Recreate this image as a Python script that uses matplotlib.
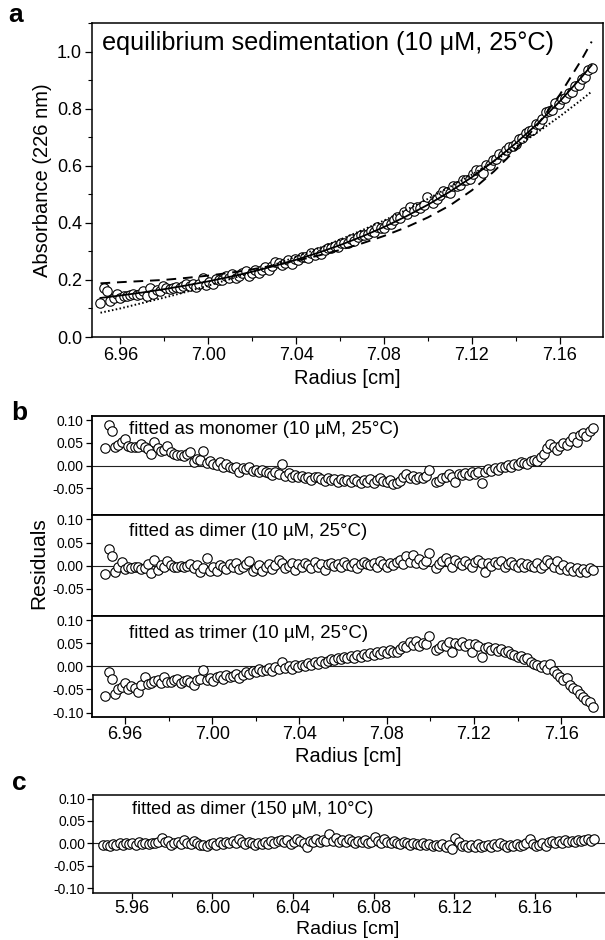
import matplotlib
matplotlib.use('Agg')
import matplotlib.pyplot as plt
from matplotlib.ticker import MultipleLocator, FixedLocator, FixedFormatter

plt.rcParams['font.family'] = ['Liberation Sans', 'DejaVu Sans']
plt.rcParams['axes.unicode_minus'] = False

# ---------------- data ----------------
radius = [
    6.9510, 6.9525, 6.9540, 6.9555, 6.9570, 6.9585, 6.9600, 6.9615, 6.9630, 6.9645,
    6.9660, 6.9675, 6.9690, 6.9705, 6.9720, 6.9735, 6.9750, 6.9765, 6.9780, 6.9795,
    6.9810, 6.9825, 6.9840, 6.9855, 6.9870, 6.9885, 6.9900, 6.9915, 6.9930, 6.9945,
    6.9960, 6.9975, 6.9990, 7.0005, 7.0020, 7.0035, 7.0050, 7.0065, 7.0080, 7.0095,
    7.0110, 7.0125, 7.0140, 7.0155, 7.0170, 7.0185, 7.0200, 7.0215, 7.0230, 7.0245,
    7.0260, 7.0275, 7.0290, 7.0305, 7.0320, 7.0335, 7.0350, 7.0365, 7.0380, 7.0395,
    7.0410, 7.0425, 7.0440, 7.0455, 7.0470, 7.0485, 7.0500, 7.0515, 7.0530, 7.0545,
    7.0560, 7.0575, 7.0590, 7.0605, 7.0620, 7.0635, 7.0650, 7.0665, 7.0680, 7.0695,
    7.0710, 7.0725, 7.0740, 7.0755, 7.0770, 7.0785, 7.0800, 7.0815, 7.0830, 7.0845,
    7.0860, 7.0875, 7.0890, 7.0905, 7.0920, 7.0935, 7.0950, 7.0965, 7.0980, 7.0995,
    7.1025, 7.1040, 7.1055, 7.1070, 7.1085, 7.1100, 7.1115, 7.1130, 7.1145,
    7.1160, 7.1175, 7.1190, 7.1205, 7.1220, 7.1235, 7.1250, 7.1265, 7.1280, 7.1295,
    7.1310, 7.1325, 7.1340, 7.1355, 7.1370, 7.1385, 7.1400, 7.1415, 7.1430, 7.1445,
    7.1460, 7.1475, 7.1490, 7.1505, 7.1520, 7.1535, 7.1550, 7.1565, 7.1580, 7.1595,
    7.1610, 7.1625, 7.1640, 7.1655, 7.1670, 7.1685, 7.1700, 7.1715, 7.1730, 7.1745,
]

absorbance = [
    0.119, 0.173, 0.161, 0.127, 0.138, 0.152, 0.137, 0.144, 0.142, 0.146,
    0.150, 0.146, 0.150, 0.160, 0.142, 0.173, 0.152, 0.165, 0.162, 0.177,
    0.170, 0.167, 0.171, 0.174, 0.173, 0.179, 0.184, 0.177, 0.186, 0.174,
    0.184, 0.207, 0.183, 0.192, 0.186, 0.202, 0.200, 0.198, 0.212, 0.208,
    0.219, 0.207, 0.214, 0.224, 0.232, 0.215, 0.223, 0.233, 0.223, 0.235,
    0.244, 0.236, 0.249, 0.263, 0.258, 0.251, 0.258, 0.269, 0.256, 0.272,
    0.270, 0.281, 0.281, 0.278, 0.294, 0.289, 0.299, 0.290, 0.306, 0.313,
    0.311, 0.319, 0.315, 0.330, 0.330, 0.331, 0.342, 0.335, 0.349, 0.358,
    0.359, 0.361, 0.371, 0.367, 0.384, 0.383, 0.383, 0.396, 0.397, 0.409,
    0.419, 0.417, 0.439, 0.432, 0.454, 0.442, 0.456, 0.452, 0.464, 0.489,
    0.469, 0.485, 0.499, 0.511, 0.509, 0.506, 0.529, 0.530, 0.533,
    0.549, 0.551, 0.553, 0.571, 0.584, 0.584, 0.573, 0.602, 0.604, 0.620,
    0.625, 0.640, 0.637, 0.654, 0.667, 0.670, 0.677, 0.695, 0.696, 0.713,
    0.720, 0.726, 0.746, 0.746, 0.765, 0.788, 0.792, 0.795, 0.818, 0.815,
    0.835, 0.836, 0.855, 0.860, 0.879, 0.884, 0.903, 0.912, 0.934, 0.943,
]

fit_radius = [6.951, 6.96, 6.97, 6.98, 6.99, 7.00, 7.01, 7.02, 7.03, 7.04, 7.05, 7.06,
              7.07, 7.08, 7.09, 7.10, 7.11, 7.12, 7.13, 7.14, 7.15, 7.16, 7.17, 7.1745]
fit_dimer = [0.1368, 0.1454, 0.1559, 0.1676, 0.1806, 0.1950, 0.2110, 0.2288, 0.2486, 0.2705,
             0.2949, 0.3219, 0.3520, 0.3853, 0.4224, 0.4635, 0.5092, 0.5600, 0.6163, 0.6789,
             0.7484, 0.8256, 0.9112, 0.9528]
fit_monomer = [0.085, 0.100, 0.119, 0.138, 0.158, 0.180, 0.203, 0.228, 0.253, 0.281,
               0.310, 0.341, 0.374, 0.408, 0.445, 0.484, 0.526, 0.569, 0.616, 0.665,
               0.718, 0.773, 0.832, 0.860]
fit_trimer = [0.188, 0.192, 0.196, 0.200, 0.207, 0.215, 0.225, 0.237, 0.251, 0.267,
              0.285, 0.305, 0.328, 0.354, 0.384, 0.419, 0.461, 0.514, 0.580, 0.657,
              0.745, 0.849, 0.973, 1.035]

res_monomer = [
    0.038, 0.090, 0.077, 0.040, 0.046, 0.052, 0.058, 0.043, 0.041, 0.042,
    0.041, 0.047, 0.040, 0.036, 0.025, 0.052, 0.038, 0.033, 0.034, 0.043,
    0.030, 0.025, 0.023, 0.024, 0.022, 0.026, 0.029, 0.008, 0.014, 0.012,
    0.033, 0.006, 0.010, 0.004, 0.002, 0.007, -0.004, 0.003, -0.002, -0.006,
    -0.003, -0.013, -0.006, -0.008, -0.004, -0.012, -0.010, -0.015, -0.009, -0.013,
    -0.016, -0.020, -0.014, -0.018, 0.003, -0.022, -0.017, -0.024, -0.020, -0.025,
    -0.022, -0.028, -0.025, -0.031, -0.026, -0.024, -0.030, -0.033, -0.027, -0.032,
    -0.030, -0.035, -0.029, -0.034, -0.031, -0.036, -0.030, -0.033, -0.038, -0.032,
    -0.035, -0.030, -0.037, -0.032, -0.028, -0.034, -0.036, -0.031, -0.040, -0.038,
    -0.034, -0.025, -0.018, -0.027, -0.022, -0.030, -0.024, -0.028, -0.022, -0.010,
    -0.036, -0.033, -0.027, -0.024, -0.019, -0.026, -0.035, -0.018, -0.021,
    -0.016, -0.020, -0.014, -0.018, -0.013, -0.037, -0.015, -0.008, -0.012, -0.005,
    -0.010, -0.004, -0.002, 0.001, -0.003, 0.004, 0.002, 0.008, 0.006, 0.003,
    0.011, 0.013, 0.010, 0.018, 0.026, 0.038, 0.047, 0.042, 0.035, 0.043,
    0.050, 0.046, 0.055, 0.062, 0.052, 0.068, 0.072, 0.065, 0.077, 0.083,
]

res_dimer = [
    -0.018, 0.035, 0.021, -0.014, -0.004, 0.008, -0.008, -0.003, -0.006, -0.004,
    -0.002, -0.007, -0.005, 0.004, -0.016, 0.013, -0.010, 0.002, -0.003, 0.010,
    0.001, -0.004, -0.002, -0.001, -0.004, 0.000, 0.003, -0.006, 0.001, -0.013,
    -0.005, 0.016, -0.011, -0.004, -0.012, 0.002, -0.003, -0.007, 0.004, -0.002,
    0.006, -0.008, -0.004, 0.003, 0.009, -0.011, -0.006, 0.001, -0.012, -0.002,
    0.004, -0.007, 0.002, 0.013, 0.005, -0.005, -0.001, 0.006, -0.010, 0.003,
    -0.003, 0.005, 0.001, -0.006, 0.007, -0.002, 0.004, -0.009, 0.003, 0.006,
    0.000, 0.004, -0.004, 0.007, 0.002, -0.001, 0.005, -0.006, 0.003, 0.008,
    0.004, 0.001, 0.006, -0.003, 0.009, 0.003, -0.002, 0.005, 0.001, 0.007,
    0.012, 0.004, 0.020, 0.008, 0.024, 0.006, 0.014, 0.003, 0.009, 0.028,
    -0.006, 0.004, 0.011, 0.016, 0.007, -0.003, 0.012, 0.006, 0.002,
    0.010, 0.004, -0.002, 0.008, 0.013, 0.005, -0.014, 0.006, -0.001, 0.007,
    0.003, 0.009, -0.004, 0.004, 0.008, 0.001, -0.002, 0.006, -0.003, 0.004,
    0.000, -0.004, 0.005, -0.006, 0.002, 0.013, 0.006, -0.003, 0.009, -0.007,
    0.001, -0.010, -0.004, -0.012, -0.006, -0.014, -0.008, -0.013, -0.005, -0.010,
]

res_trimer = [
    -0.065, -0.012, -0.027, -0.060, -0.050, -0.045, -0.036, -0.048, -0.042, -0.046,
    -0.056, -0.040, -0.022, -0.038, -0.035, -0.032, -0.030, -0.036, -0.023, -0.033,
    -0.033, -0.030, -0.028, -0.035, -0.031, -0.029, -0.033, -0.041, -0.030, -0.028,
    -0.007, -0.030, -0.026, -0.032, -0.024, -0.020, -0.027, -0.018, -0.024, -0.021,
    -0.017, -0.025, -0.019, -0.012, -0.016, -0.009, -0.013, -0.006, -0.011, -0.008,
    -0.004, -0.009, -0.002, -0.006, 0.010, -0.003, 0.000, -0.005, 0.003, -0.001,
    0.004, 0.001, 0.007, 0.003, 0.009, 0.006, 0.012, 0.008, 0.011, 0.015,
    0.013, 0.018, 0.016, 0.021, 0.017, 0.022, 0.019, 0.024, 0.020, 0.026,
    0.023, 0.028, 0.025, 0.031, 0.027, 0.033, 0.029, 0.035, 0.032, 0.030,
    0.038, 0.045, 0.041, 0.052, 0.047, 0.055, 0.044, 0.050, 0.048, 0.065,
    0.036, 0.040, 0.047, 0.044, 0.053, 0.031, 0.050, 0.046, 0.052,
    0.043, 0.049, 0.032, 0.048, 0.045, 0.020, 0.039, 0.042, 0.036, 0.040,
    0.034, 0.037, 0.030, 0.033, 0.027, 0.024, 0.020, 0.023, 0.015, 0.018,
    0.010, 0.006, 0.002, -0.002, 0.004, -0.005, 0.006, -0.010, -0.016, -0.022,
    -0.030, -0.026, -0.040, -0.046, -0.052, -0.060, -0.066, -0.072, -0.078, -0.087,
]

radius_c = [
    5.9460, 5.9476, 5.9492, 5.9508, 5.9524, 5.9540, 5.9556, 5.9572, 5.9588, 5.9604,
    5.9620, 5.9636, 5.9652, 5.9668, 5.9684, 5.9700, 5.9716, 5.9732, 5.9748, 5.9764,
    5.9780, 5.9796, 5.9812, 5.9828, 5.9844, 5.9860, 5.9876, 5.9892, 5.9908, 5.9924,
    5.9940, 5.9956, 5.9972, 5.9988, 6.0004, 6.0020, 6.0036, 6.0052, 6.0068, 6.0084,
    6.0100, 6.0116, 6.0132, 6.0148, 6.0164, 6.0180, 6.0196, 6.0212, 6.0228, 6.0244,
    6.0260, 6.0276, 6.0292, 6.0308, 6.0324, 6.0340, 6.0356, 6.0372, 6.0388, 6.0404,
    6.0420, 6.0436, 6.0452, 6.0468, 6.0484, 6.0500, 6.0516, 6.0532, 6.0548, 6.0564,
    6.0580, 6.0596, 6.0612, 6.0628, 6.0644, 6.0660, 6.0676, 6.0692, 6.0708, 6.0724,
    6.0740, 6.0756, 6.0772, 6.0788, 6.0804, 6.0820, 6.0836, 6.0852, 6.0868, 6.0884,
    6.0900, 6.0916, 6.0932, 6.0948, 6.0964, 6.0980, 6.0996, 6.1012, 6.1028, 6.1044,
    6.1060, 6.1076, 6.1092, 6.1108, 6.1124, 6.1140, 6.1156, 6.1172, 6.1188, 6.1204,
    6.1220, 6.1236, 6.1252, 6.1268, 6.1284, 6.1300, 6.1316, 6.1332, 6.1348, 6.1364,
    6.1380, 6.1396, 6.1412, 6.1428, 6.1444, 6.1460, 6.1476, 6.1492, 6.1508, 6.1524,
    6.1540, 6.1556, 6.1572, 6.1588, 6.1604, 6.1620, 6.1636, 6.1652, 6.1668, 6.1684,
    6.1700, 6.1716, 6.1732, 6.1748, 6.1764, 6.1780, 6.1796, 6.1812, 6.1828, 6.1844,
    6.1860, 6.1876, 6.1892,
]

res_dimer_c = [
    -0.004, -0.003, -0.005, -0.001, -0.003, 0.001, -0.004, 0.002, -0.002, 0.000,
    -0.003, 0.003, -0.001, 0.001, -0.002, 0.002, 0.000, 0.004, 0.013, 0.003,
    0.006, -0.003, 0.001, 0.004, -0.002, 0.007, 0.001, -0.001, 0.005, 0.002,
    -0.004, -0.003, -0.006, -0.002, 0.001, -0.004, 0.003, -0.001, 0.004, 0.002,
    0.006, 0.001, 0.009, 0.003, -0.001, 0.004, 0.000, -0.003, 0.002, -0.002,
    0.003, -0.001, 0.005, 0.002, 0.006, 0.008, 0.003, 0.007, -0.002, 0.004,
    0.009, 0.005, 0.002, -0.009, 0.006, 0.003, 0.010, 0.004, 0.007, 0.005,
    0.020, 0.006, 0.011, 0.003, 0.008, 0.004, 0.009, 0.006, 0.002, 0.005,
    0.003, 0.007, 0.001, 0.004, 0.015, 0.006, 0.002, 0.009, 0.003, 0.000,
    0.005, 0.002, -0.001, 0.003, 0.001, -0.003, 0.002, -0.002, -0.004, 0.001,
    -0.004, -0.002, -0.006, -0.003, -0.005, -0.002, -0.007, -0.004, -0.013, 0.011,
    0.003, -0.006, -0.003, -0.008, -0.004, -0.007, -0.002, -0.009, -0.005, -0.003,
    -0.007, -0.002, -0.006, 0.001, -0.004, -0.008, -0.003, -0.006, -0.002, -0.005,
    -0.004, 0.002, 0.010, -0.001, -0.006, -0.003, 0.001, -0.005, 0.003, 0.006,
    0.001, 0.005, 0.002, 0.007, 0.003, 0.006, 0.004, 0.008, 0.005, 0.007,
    0.009, 0.006, 0.009,
]

abs_ticks = [0.0, 0.2, 0.4, 0.6, 0.8, 1.0]
abs_ticklabels = ['0.0', '0.2', '0.4', '0.6', '0.8', '1.0']
radius_ticks = [6.96, 7.00, 7.04, 7.08, 7.12, 7.16]
radius_ticklabels = ['6.96', '7.00', '7.04', '7.08', '7.12', '7.16']
radius_c_ticks = [5.96, 6.00, 6.04, 6.08, 6.12, 6.16]
radius_c_ticklabels = ['5.96', '6.00', '6.04', '6.08', '6.12', '6.16']
res_ticks_short = [0.10, 0.05, 0.00, -0.05]
res_ticklabels_short = ['0.10', '0.05', '0.00', '-0.05']
res_ticks_full = [0.10, 0.05, 0.00, -0.05, -0.10]
res_ticklabels_full = ['0.10', '0.05', '0.00', '-0.05', '-0.10']

title_a = 'equilibrium sedimentation (10 \u03bcM, 25\u00b0C)'
titles_b = ['fitted as monomer (10 \u00b5M, 25\u00b0C)',
            'fitted as dimer (10 \u00b5M, 25\u00b0C)',
            'fitted as trimer (10 \u00b5M, 25\u00b0C)']
title_c = 'fitted as dimer (150 \u03bcM, 10\u00b0C)'

# ---------------- layout helpers ----------------
W, H = 605, 940
fig = plt.figure(figsize=(W / 100, H / 100), dpi=100)


def add_ax(l, t, r, b):
    return fig.add_axes([l / W, 1 - b / H, (r - l) / W, (b - t) / H])


def ftext(x, y, s, **kw):
    fig.text(x / W, 1 - y / H, s, **kw)


narrow = ['Liberation Sans Narrow', 'Liberation Sans', 'DejaVu Sans']
MK = dict(marker='o', ls='none', ms=6.8, mfc='white', mec='black', mew=0.8)


def style_spines(ax, lw=1.1):
    for s in ax.spines.values():
        s.set_linewidth(lw)
        s.set_color('black')


def style_res_yticks(a):
    a.tick_params(axis='y', which='major', direction='out', length=4, width=0.9, pad=1.5)
    for lab in a.get_yticklabels():
        lab.set_fontfamily(narrow)
        lab.set_fontsize(10)


# ---------------- panel a ----------------
ax = add_ax(91.7, 23, 602.7, 337)
ax.plot(radius, absorbance, zorder=2, **MK)
ax.plot(fit_radius, fit_dimer, '-', color='black', lw=1.3, zorder=3)
ax.plot(fit_radius, fit_trimer, color='black', lw=1.4, ls=(0, (5, 3.5)), zorder=3)
ax.plot(fit_radius, fit_monomer, color='black', lw=1.4, ls=(0, (0.8, 1.2)), zorder=3)
ax.set_xlim(6.947, 7.1795)
ax.set_ylim(0, 1.10)
ax.xaxis.set_major_locator(FixedLocator(radius_ticks))
ax.xaxis.set_major_formatter(FixedFormatter(radius_ticklabels))
ax.xaxis.set_minor_locator(MultipleLocator(0.02))
ax.yaxis.set_major_locator(FixedLocator(abs_ticks))
ax.yaxis.set_major_formatter(FixedFormatter(abs_ticklabels))
ax.yaxis.set_minor_locator(MultipleLocator(0.1))
ax.tick_params(which='major', direction='out', length=5, width=0.9, labelsize=13, pad=2)
ax.tick_params(which='minor', direction='out', length=3, width=0.8)
style_spines(ax)
ftext(102, 43, title_a, fontsize=18.2, ha='left', va='center')
ftext(347, 378, 'Radius [cm]', fontsize=14.5, ha='center', va='center')
ftext(42.5, 180, 'Absorbance (226 nm)', fontsize=14.5, ha='center', va='center', rotation=90)
ftext(15.5, 15, 'a', fontsize=19, fontweight='bold', ha='center', va='center')

# ---------------- panel b ----------------
b_bounds = [(416, 515.3), (515.3, 616), (616, 716.7)]
b_series = [res_monomer, res_dimer, res_trimer]
b_text_y = [430, 531.7, 633]
for k in range(3):
    t, b = b_bounds[k]
    axb = add_ax(91.5, t, 604, b)
    axb.axhline(0, color='#222222', lw=0.8, zorder=1)
    axb.plot(radius, b_series[k], zorder=2, **MK)
    axb.set_xlim(6.9447, 7.1796)
    axb.set_ylim(-0.109, 0.109)
    if k < 2:
        axb.yaxis.set_major_locator(FixedLocator(res_ticks_short))
        axb.yaxis.set_major_formatter(FixedFormatter(res_ticklabels_short))
        axb.tick_params(axis='x', which='both', bottom=False, labelbottom=False)
    else:
        axb.yaxis.set_major_locator(FixedLocator(res_ticks_full))
        axb.yaxis.set_major_formatter(FixedFormatter(res_ticklabels_full))
        axb.xaxis.set_major_locator(FixedLocator(radius_ticks))
        axb.xaxis.set_major_formatter(FixedFormatter(radius_ticklabels))
        axb.xaxis.set_minor_locator(MultipleLocator(0.02))
        axb.tick_params(axis='x', which='major', direction='out', length=5, width=0.9,
                        labelsize=13, pad=2)
        axb.tick_params(axis='x', which='minor', direction='out', length=3, width=0.8)
    style_res_yticks(axb)
    style_spines(axb, 1.3)
    ftext(129, b_text_y[k], titles_b[k], fontsize=13.4, ha='left', va='center')

ftext(348, 756, 'Radius [cm]', fontsize=14.5, ha='center', va='center')
ftext(38.6, 563, 'Residuals', fontsize=15, ha='center', va='center', rotation=90)
ftext(19, 413, 'b', fontsize=19, fontweight='bold', ha='center', va='center')

# ---------------- panel c ----------------
axc = add_ax(92.7, 795, 605, 892.7)
axc.axhline(0, color='#222222', lw=0.8, zorder=1)
axc.plot(radius_c, res_dimer_c, zorder=2, **MK)
axc.set_xlim(5.9407, 6.1946)
axc.set_ylim(-0.110, 0.108)
axc.yaxis.set_major_locator(FixedLocator(res_ticks_full))
axc.yaxis.set_major_formatter(FixedFormatter(res_ticklabels_full))
axc.xaxis.set_major_locator(FixedLocator(radius_c_ticks))
axc.xaxis.set_major_formatter(FixedFormatter(radius_c_ticklabels))
axc.xaxis.set_minor_locator(MultipleLocator(0.02))
axc.tick_params(axis='x', which='major', direction='out', length=4, width=0.9,
                labelsize=13, pad=1)
axc.tick_params(axis='x', which='minor', direction='out', length=3, width=0.8)
style_res_yticks(axc)
style_spines(axc, 1.1)
axc.spines['right'].set_visible(False)
ftext(131.7, 810, title_c, fontsize=13, ha='left', va='center')
ftext(348, 929.5, 'Radius [cm]', fontsize=14, ha='center', va='center')
ftext(19, 783, 'c', fontsize=19, fontweight='bold', ha='center', va='center')

fig.savefig('out.png', dpi=100)
